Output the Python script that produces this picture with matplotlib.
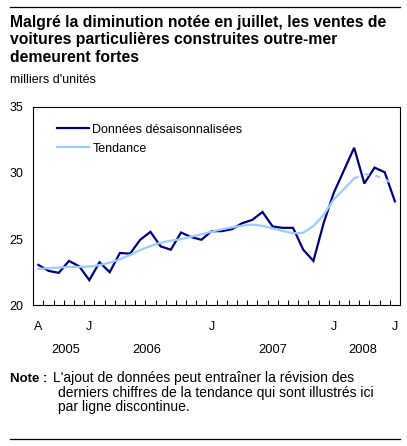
import matplotlib

matplotlib.use("Agg")
import matplotlib.pyplot as plt
from matplotlib.transforms import blended_transform_factory

plt.rcParams["font.family"] = ["Liberation Sans", "DejaVu Sans"]

# Monthly, August 2005 to July 2008 (thousands of units)
months = list(range(36))
seasonally_adjusted = [23.05, 22.6, 22.45, 23.35, 22.95, 21.9, 23.25, 22.5, 23.95, 23.9,
                       24.95, 25.55, 24.45, 24.2, 25.5, 25.15, 24.95, 25.6, 25.6, 25.75,
                       26.2, 26.45, 27.05, 25.95, 25.85, 25.85, 24.2, 23.35, 26.2, 28.5,
                       30.2, 31.9, 29.2, 30.4, 30.05, 27.85]
trend = [22.75, 22.8, 22.85, 22.9, 22.9, 22.92, 23.04, 23.22, 23.47, 23.8,
         24.18, 24.48, 24.73, 24.88, 25.0, 25.18, 25.36, 25.56, 25.74, 25.89,
         26.01, 26.1, 26.0, 25.81, 25.61, 25.44, 25.48, 25.99, 26.82, 28.0,
         28.78, 29.59, 29.9, 29.84, 29.5, 29.14]
last_firm = 31  # trend dashed after this month

month_idx = [0, 5, 17, 29, 35]
month_labels = ["A", "J", "J", "J", "J"]
year_pos = [2.7, 10.6, 23.0, 31.8]
year_labels = ["2005", "2006", "2007", "2008"]

W, H = 407, 446
dark = "#000080"
light = "#99CCFF"


def fx(x):
    return x / W


def fy(y):
    return 1 - y / H


fig = plt.figure(figsize=(W / 100, H / 100), dpi=100)
ax = fig.add_axes([fx(33.3), fy(305.3), fx(400) - fx(33.3), fy(106.7) - fy(305.3)])

ax.plot(months, seasonally_adjusted, color=dark, lw=1.6, label="Données désaisonnalisées",
        solid_joinstyle="miter")
ax.plot(months[:last_firm + 1], trend[:last_firm + 1], color=light, lw=1.6, label="Tendance")
ax.plot(months[last_firm:], trend[last_firm:], color=light, lw=1.6, dashes=(2.2, 2.8))

ax.set_xlim(-0.5, 35.5)
ax.set_ylim(20, 35)
ax.set_yticks([20, 25, 30, 35])
ax.tick_params(axis="y", length=0, pad=7, labelsize=9)

ax.set_xticks([m + 0.5 for m in months[:-1]])
ax.set_xticklabels([])
ax.tick_params(axis="x", which="major", direction="in", length=3.6, width=0.75)
ax.set_xticks(month_idx, minor=True)
ax.set_xticklabels(month_labels, minor=True)
ax.tick_params(axis="x", which="minor", length=0, pad=11, labelsize=9)

for s in ax.spines.values():
    s.set_linewidth(0.8)
    s.set_color("black")

ax.legend(loc="upper left", bbox_to_anchor=(0.064, 0.915), frameon=False, fontsize=9,
          handlelength=2.6, handletextpad=0.25, labelspacing=0.56, borderpad=0,
          borderaxespad=0)

tr = blended_transform_factory(ax.transData, fig.transFigure)
for p, lab in zip(year_pos, year_labels):
    ax.text(p, fy(353), lab, transform=tr, ha="center", va="baseline", fontsize=9.3)

# title and notes
title_lines = ["Malgré la diminution notée en juillet, les ventes de",
               "voitures particulières construites outre-mer",
               "demeurent fortes"]
for yb, line in zip([26.5, 44.2, 62], title_lines):
    fig.text(fx(10), fy(yb), line, fontsize=11.3, fontweight="bold", va="baseline")

fig.text(fx(10), fy(83), "milliers d'unités", fontsize=9, va="baseline")

fig.text(fx(10), fy(382), "Note :", fontsize=9.5, fontweight="bold", va="baseline")
fig.text(fx(52.5), fy(382), "L'ajout de données peut entraîner la révision des",
         fontsize=10, va="baseline")
fig.text(fx(58), fy(396.5), "derniers chiffres de la tendance qui sont illustrés ici",
         fontsize=10, va="baseline")
fig.text(fx(58), fy(411), "par ligne discontinue.", fontsize=10, va="baseline")

fig.add_artist(plt.Line2D([fx(10), fx(400)], [fy(7), fy(7)], color="black", lw=0.9))
fig.add_artist(plt.Line2D([fx(10), fx(400)], [fy(439), fy(439)], color="black", lw=0.9))

fig.savefig("out.png", dpi=100)
